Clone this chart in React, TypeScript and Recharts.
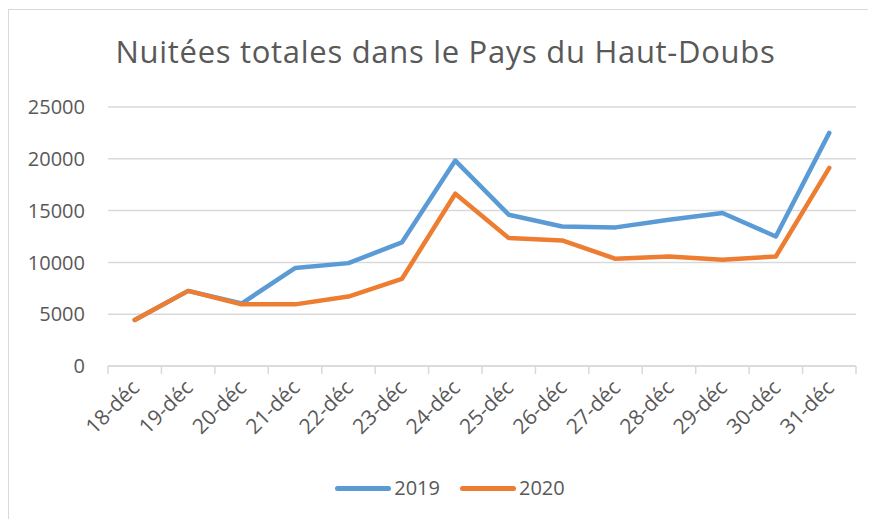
import React from "react";
import {
  LineChart,
  Line,
  XAxis,
  YAxis,
  CartesianGrid,
  Legend,
} from "recharts";

const dates = [
  "18-déc", "19-déc", "20-déc", "21-déc", "22-déc", "23-déc", "24-déc",
  "25-déc", "26-déc", "27-déc", "28-déc", "29-déc", "30-déc", "31-déc",
];
const nuitees2019 = [
  4450, 7250, 6030, 9450, 9930, 11930, 19830,
  14600, 13470, 13380, 14120, 14770, 12500, 22500,
];
const nuitees2020 = [
  4450, 7250, 5950, 5950, 6700, 8400, 16630,
  12350, 12120, 10350, 10570, 10250, 10570, 19120,
];
const yTicks = [0, 5000, 10000, 15000, 20000, 25000];

const data = dates.map((d, i) => ({
  date: d,
  y2019: nuitees2019[i],
  y2020: nuitees2020[i],
}));

const CHART_W = 867;
const CHART_H = 510;
const Y_W = 99;
const MARGIN_R = 20;
const BAND = (CHART_W - Y_W - MARGIN_R) / dates.length;

const FONT = "'Open Sans', sans-serif";
const TEXT = "#595959";
const GRID = "#d9d9d9";
const BLUE = "#5B9BD5";
const ORANGE = "#ED7D31";

function DateTick(props: any) {
  const { x, y, payload, index } = props;
  const axisY = y - 8;
  const tx = x + 6;
  const ty = axisY + 23;
  return (
    <g>
      <line x1={x - BAND / 2} x2={x - BAND / 2} y1={axisY} y2={axisY + 8} stroke={GRID} strokeWidth={1.5} />
      {index === dates.length - 1 && (
        <line x1={x + BAND / 2} x2={x + BAND / 2} y1={axisY} y2={axisY + 8} stroke={GRID} strokeWidth={1.5} />
      )}
      <text
        x={tx}
        y={ty}
        textAnchor="end"
        fill={TEXT}
        fontSize={21}
        fontFamily={FONT}
        transform={`rotate(-45 ${tx} ${ty})`}
      >
        {payload.value}
      </text>
    </g>
  );
}

function LegendContent() {
  const items = [
    { label: "2019", color: BLUE },
    { label: "2020", color: ORANGE },
  ];
  return (
    <div style={{ display: "flex", justifyContent: "center", marginLeft: 35, gap: 20, height: 20, alignItems: "center" }}>
      {items.map((it) => (
        <div key={it.label} style={{ display: "flex", alignItems: "center", gap: 3 }}>
          <div style={{ width: 56, height: 5, borderRadius: 3, background: it.color }} />
          <span style={{ fontFamily: FONT, fontSize: 20, color: TEXT, lineHeight: "20px" }}>{it.label}</span>
        </div>
      ))}
    </div>
  );
}

export default function App() {
  return (
    <div
      style={{
        position: "relative",
        top: 1,
        width: CHART_W,
        height: CHART_H,
        borderTop: `1px solid ${GRID}`,
        borderLeft: `1px solid ${GRID}`,
        background: "#fff",
      }}
    >
      <div
        style={{
          position: "absolute",
          left: 3,
          top: 21,
          width: CHART_W,
          textAlign: "center",
          fontFamily: FONT,
          fontSize: 31,
          letterSpacing: 0.7,
          lineHeight: "40px",
          color: TEXT,
        }}
      >
        Nuitées totales dans le Pays du Haut-Doubs
      </div>
      <LineChart
        width={CHART_W}
        height={CHART_H}
        data={data}
        margin={{ top: 97, right: MARGIN_R, bottom: 20, left: 0 }}
      >
        <CartesianGrid vertical={false} stroke={GRID} strokeWidth={1.5} />
        <XAxis
          dataKey="date"
          height={114}
          interval={0}
          padding={{ left: BAND / 2, right: BAND / 2 }}
          tickLine={false}
          tickSize={8}
          tickMargin={0}
          axisLine={{ stroke: GRID, strokeWidth: 1.5 }}
          tick={<DateTick />}
        />
        <YAxis
          width={Y_W}
          domain={[0, 25000]}
          ticks={yTicks}
          axisLine={false}
          tickLine={false}
          tickSize={6}
          tickMargin={17}
          tick={{ fill: TEXT, fontSize: 20, fontFamily: FONT }}
        />
        <Legend
          verticalAlign="bottom"
          content={<LegendContent />}
          wrapperStyle={{ height: 20, bottom: 22 }}
        />
        <Line
          type="linear"
          dataKey="y2019"
          name="2019"
          stroke={BLUE}
          strokeWidth={4.5}
          strokeLinecap="round"
          strokeLinejoin="round"
          dot={false}
          isAnimationActive={false}
        />
        <Line
          type="linear"
          dataKey="y2020"
          name="2020"
          stroke={ORANGE}
          strokeWidth={4.5}
          strokeLinecap="round"
          strokeLinejoin="round"
          dot={false}
          isAnimationActive={false}
        />
      </LineChart>
    </div>
  );
}
